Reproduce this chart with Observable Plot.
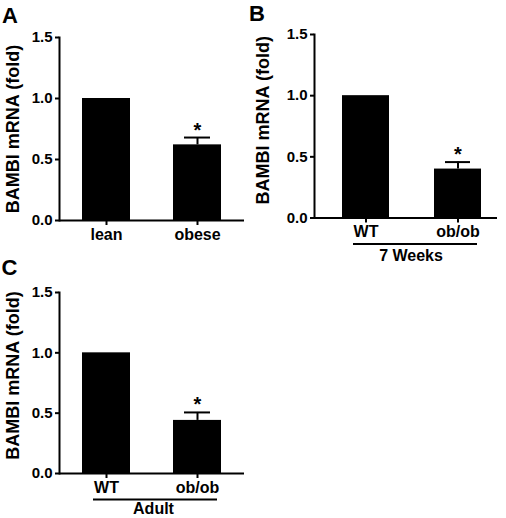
<!DOCTYPE html>
<html><head><meta charset="utf-8">
<script src="https://cdn.jsdelivr.net/npm/d3@7"></script>
<script src="https://cdn.jsdelivr.net/npm/@observablehq/plot@0.6"></script>
<style>
body{margin:0;background:#fff;}
#fig{position:relative;width:506px;height:518px;overflow:hidden;background:#fff;}
#fig > div{position:absolute;}
</style></head><body><div id="fig"></div>
<script>
const panelLetters = ["A", "B", "C"];
const yLabel = "BAMBI mRNA (fold)";
const yTicks = [0, 0.5, 1.0, 1.5];
const categoriesA = ["lean", "obese"];
const valuesA = [1.0, 0.62];
const errorsA = [0, 0.06];
const categoriesB = ["WT", "ob/ob"];
const valuesB = [1.0, 0.40];
const errorsB = [0, 0.057];
const categoriesC = ["WT", "ob/ob"];
const valuesC = [1.0, 0.44];
const errorsC = [0, 0.066];
const significance = ["", "*"];
const groupLabels = ["", "7 Weeks", "Adult"];

const FONT = '"Liberation Sans", Arial, Helvetica, sans-serif';

const layouts = [
  {left:0, top:0, width:246, height:258, mt:37, mb:38, ml:59, mr:2, pi:0.473, po:0.242, align:0.5, letter:[-57.5,-15], ylab:[-46.5,0], group:[0,32]},
  {left:246, top:0, width:260, height:270, mt:34, mb:52.5, ml:68, mr:9, pi:0.489, po:0.239, align:0.636, letter:[-65.5,-14], ylab:[-51.5,-6], group:[5,32]},
  {left:0, top:260, width:246, height:258, mt:32, mb:45, ml:59, mr:2, pi:0.473, po:0.242, align:0.5, letter:[-58,-18], ylab:[-46.5,-7.5], group:[1.5,29.5]}
];

function panel(i, cats, vals, errs) {
  const L = layouts[i];
  const data = cats.map((c, j) => ({cat: c, value: vals[j], err: errs[j], top: vals[j] + errs[j], sig: significance[j]}));
  const withErr = data.filter(d => d.err > 0);
  const marks = [
    Plot.barY(data, {x: "cat", y: "value", fill: "black"}),
    Plot.ruleX(withErr, {x: "cat", y1: "value", y2: "top", stroke: "black", strokeWidth: 2}),
    Plot.tickY(withErr, {x: "cat", y: "top", stroke: "black", strokeWidth: 2, insetLeft: 11, insetRight: 11}),
    Plot.text(withErr, {x: "cat", y: "top", text: "sig", lineAnchor: "bottom", dy: -1, fontSize: 20, fontWeight: "bold", fill: "black"}),
    Plot.axisY({ticks: yTicks, tickFormat: d3.format(".1f"), tickSize: 4, tickPadding: 3, strokeWidth: 2, fontSize: 15, fontWeight: "bold", label: null}),
    Plot.axisX({tickSize: 5, tickPadding: 3, strokeWidth: 2, fontSize: 16, fontWeight: "bold", label: null}),
    Plot.ruleY([0], {stroke: "black", strokeWidth: 2}),
    Plot.frame({anchor: "left", stroke: "black", strokeWidth: 2}),
    Plot.text([yLabel], {text: d => d, frameAnchor: "left", rotate: -90, dx: L.ylab[0], dy: L.ylab[1], textAnchor: "middle", lineAnchor: "middle", fontSize: 18, fontWeight: "bold", fill: "black"}),
    Plot.text([panelLetters[i]], {text: d => d, frameAnchor: "top-left", dx: L.letter[0], dy: L.letter[1], textAnchor: "start", lineAnchor: "bottom", fontSize: 22, fontWeight: "bold", fill: "black"})
  ];
  if (groupLabels[i]) {
    marks.push(Plot.ruleY([{a: cats[0], b: cats[cats.length - 1]}], {y: () => 0, x1: "a", x2: "b", dy: 26, insetLeft: 11, insetRight: 4, stroke: "black", strokeWidth: 2}));
    marks.push(Plot.text([groupLabels[i]], {text: d => d, frameAnchor: "bottom", dx: L.group[0], dy: L.group[1], lineAnchor: "top", fontSize: 16, fontWeight: "bold", fill: "black"}));
  }
  const chart = Plot.plot({
    width: L.width, height: L.height,
    marginTop: L.mt, marginBottom: L.mb, marginLeft: L.ml, marginRight: L.mr,
    style: {fontFamily: FONT, color: "black", background: "transparent", overflow: "visible"},
    x: {type: "band", domain: cats, paddingInner: L.pi, paddingOuter: L.po, align: L.align},
    y: {domain: [0, 1.5]},
    marks
  });
  const wrap = document.createElement("div");
  wrap.style.left = L.left + "px";
  wrap.style.top = L.top + "px";
  wrap.appendChild(chart);
  document.getElementById("fig").appendChild(wrap);
}

panel(0, categoriesA, valuesA, errorsA);
panel(1, categoriesB, valuesB, errorsB);
panel(2, categoriesC, valuesC, errorsC);
</script>
</body></html>
